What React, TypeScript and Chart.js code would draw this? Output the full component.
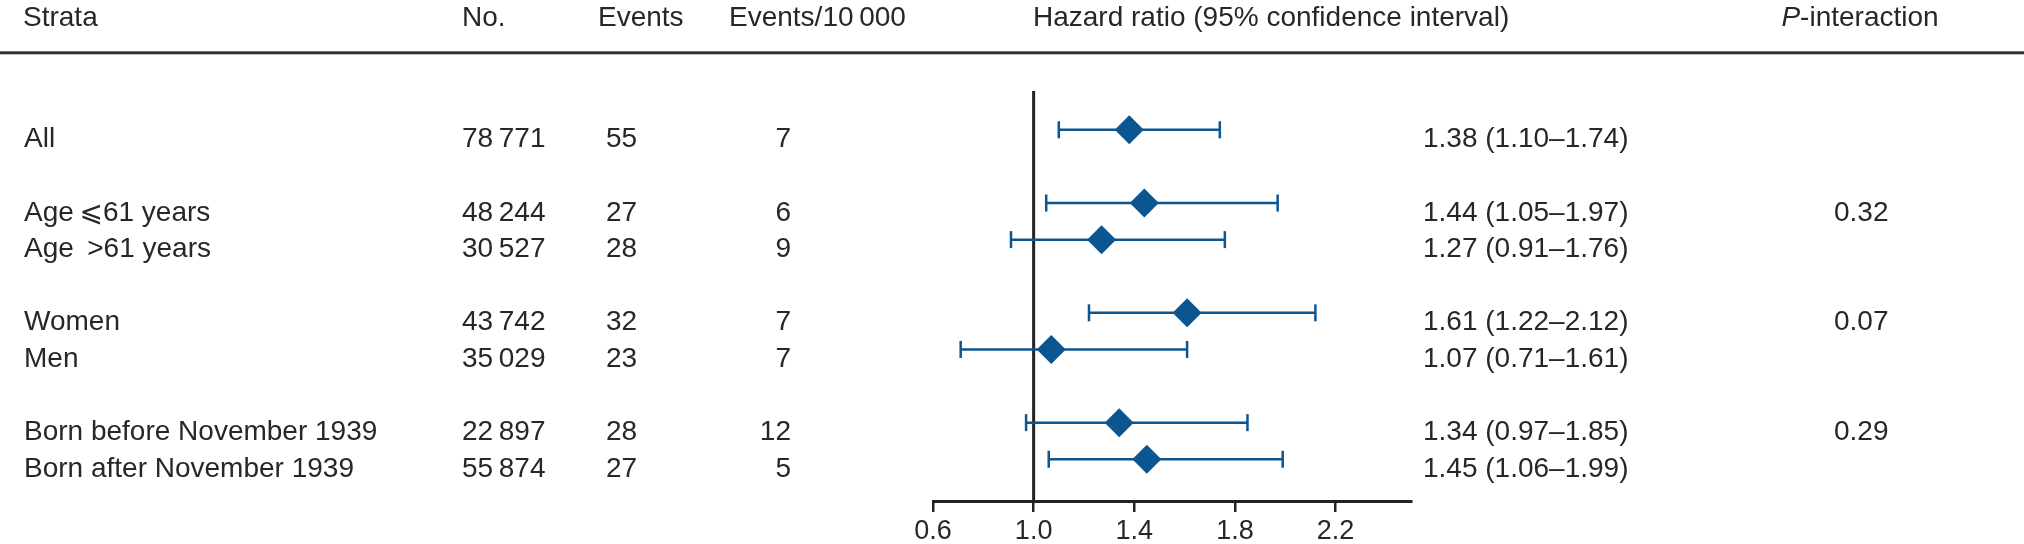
import React, { useEffect, useRef } from "react";
import { Chart, registerables } from "chart.js";

Chart.register(...registerables);

// ---- data ----
const strata = [
  "All",
  "Age\u2009⩽61 years",
  "Age \u2009>61 years",
  "Women",
  "Men",
  "Born before November 1939",
  "Born after November 1939",
];
const rowSlots = [0, 2, 3, 5, 6, 8, 9];
const counts = [78771, 48244, 30527, 43742, 35029, 22897, 55874];
const events = [55, 27, 28, 32, 23, 28, 27];
const eventsPer10000 = [7, 6, 9, 7, 7, 12, 5];
const hazardRatio = [1.38, 1.44, 1.27, 1.61, 1.07, 1.34, 1.45];
const ciLower = [1.1, 1.05, 0.91, 1.22, 0.71, 0.97, 1.06];
const ciUpper = [1.74, 1.97, 1.76, 2.12, 1.61, 1.85, 1.99];
const pInteraction = ["", "0.32", "", "0.07", "", "0.29", ""];
const xTicks = [0.6, 1.0, 1.4, 1.8, 2.2];
const referenceValue = 1.0;
const headers = ["Strata", "No.", "Events", "Events/10\u2009000", "Hazard ratio (95% confidence interval)"];

const X_MIN = 0.6;
const X_MAX = 2.5;
const Y_MIN = -1.06;
const Y_MAX = 10.14;

const BLUE = "#0b5590";
const INK = "#2a2627";
const FONT = "'Liberation Sans', 'DejaVu Sans', Arial, sans-serif";

const fmtThousands = (n: number) => {
  const s = String(n);
  return s.length > 3 ? s.slice(0, s.length - 3) + "\u2009" + s.slice(s.length - 3) : s;
};

const tablePlugin = {
  id: "tableText",
  afterDraw(chart: any) {
    const ctx = chart.ctx as CanvasRenderingContext2D;
    const ys = chart.scales.y;
    ctx.save();
    ctx.fillStyle = INK;
    ctx.font = `28px ${FONT}`;
    ctx.textBaseline = "alphabetic";
    // headers
    const hb = 26;
    const hx = [23, 462, 598, 729, 1033];
    ctx.textAlign = "left";
    headers.forEach((h, i) => ctx.fillText(h, hx[i], hb));
    // P-interaction header centred over its column
    ctx.font = `italic 28px ${FONT}`;
    const pw = ctx.measureText("P").width;
    ctx.font = `28px ${FONT}`;
    const rw = ctx.measureText("-interaction").width;
    const px = 1860 - (pw + rw) / 2;
    ctx.font = `italic 28px ${FONT}`;
    ctx.fillText("P", px, hb);
    ctx.font = `28px ${FONT}`;
    ctx.fillText("-interaction", px + pw, hb);
    // rule
    ctx.fillStyle = "#333";
    ctx.fillRect(0, 51.3, chart.width, 3);
    ctx.fillStyle = INK;
    // rows
    strata.forEach((s, i) => {
      const y = ys.getPixelForValue(rowSlots[i]) + 17.5;
      ctx.textAlign = "left";
      ctx.fillText(s, 24, y);
      ctx.fillText(fmtThousands(counts[i]), 462, y);
      ctx.fillText(String(events[i]), 606, y);
      ctx.textAlign = "right";
      ctx.fillText(String(eventsPer10000[i]), 791, y);
      ctx.textAlign = "left";
      ctx.fillText(
        `${hazardRatio[i].toFixed(2)} (${ciLower[i].toFixed(2)}\u2013${ciUpper[i].toFixed(2)})`,
        1423,
        y
      );
      if (pInteraction[i]) ctx.fillText(pInteraction[i], 1834, y);
    });
    ctx.restore();
  },
};

export default function App() {
  const ref = useRef<HTMLCanvasElement | null>(null);
  useEffect(() => {
    if (!ref.current) return;
    const ciSets = hazardRatio.map((_, i) => ({
      type: "line" as const,
      data: [
        { x: ciLower[i], y: rowSlots[i] },
        { x: ciUpper[i], y: rowSlots[i] },
      ],
      borderColor: BLUE,
      borderWidth: 2.5,
      pointStyle: "line" as const,
      rotation: 90,
      pointRadius: 8.5,
      pointBorderColor: BLUE,
      pointBorderWidth: 2.5,
      showLine: true,
      order: 1,
    }));
    const chart = new Chart(ref.current, {
      type: "scatter",
      data: {
        datasets: [
          {
            type: "line" as const,
            data: [
              { x: referenceValue, y: Y_MIN },
              { x: referenceValue, y: Y_MAX },
            ],
            borderColor: "#222",
            borderWidth: 3,
            pointRadius: 0,
            showLine: true,
            order: 2,
          } as any,
          ...(ciSets as any[]),
          {
            type: "scatter" as const,
            data: hazardRatio.map((v, i) => ({ x: v, y: rowSlots[i] })),
            pointStyle: "rectRot",
            pointRadius: 14.5,
            backgroundColor: BLUE,
            borderWidth: 0,
            order: 0,
          } as any,
        ],
      },
      options: {
        animation: false,
        responsive: true,
        maintainAspectRatio: false,
        layout: { autoPadding: false, padding: { left: 933, right: 613, top: 91, bottom: 2 } },
        plugins: { legend: { display: false }, tooltip: { enabled: false } },
        scales: {
          x: {
            type: "linear",
            min: X_MIN,
            max: X_MAX,
            afterBuildTicks: (s: any) => {
              s.ticks = xTicks.map((v) => ({ value: v }));
            },
            afterFit: (s: any) => {
              s.height = 41;
            },
            ticks: {
              font: { family: FONT, size: 27 },
              color: INK,
              padding: 3,
              callback: (v: any) => Number(v).toFixed(1),
              maxRotation: 0,
            },
            grid: {
              display: true,
              drawOnChartArea: false,
              drawTicks: true,
              tickLength: 11,
              color: "#222",
              lineWidth: 2.5,
            },
            border: { display: true, color: "#222", width: 3 },
          },
          y: { type: "linear", min: Y_MIN, max: Y_MAX, reverse: true, display: false },
        },
      },
      plugins: [tablePlugin],
    } as any);
    return () => chart.destroy();
  }, []);
  return (
    <div style={{ position: "fixed", left: 0, top: 0, width: 2024, height: 544, background: "#fff" }}>
      <canvas ref={ref} />
    </div>
  );
}
